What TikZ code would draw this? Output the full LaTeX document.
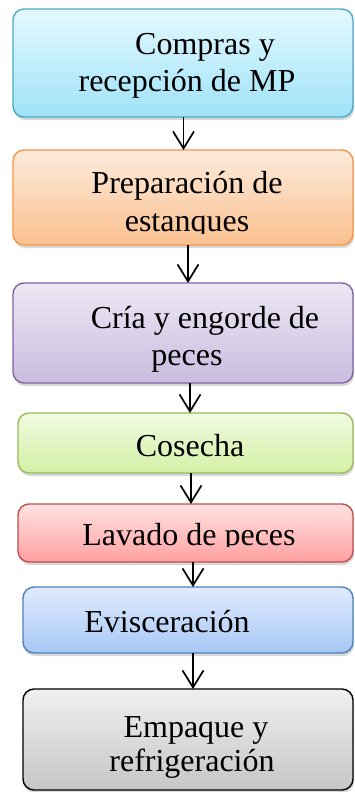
\documentclass[tikz,border=0pt]{standalone}
\usepackage{fontspec}
\setmainfont{Liberation Serif}
\usetikzlibrary{arrows.meta,shadows}
\definecolor{bA}{HTML}{4BACC6}\definecolor{tA}{HTML}{E4F8FE}\definecolor{uA}{HTML}{9EE3F8}
\definecolor{bB}{HTML}{F79646}\definecolor{tB}{HTML}{FDEBDC}\definecolor{uB}{HTML}{FAC08F}
\definecolor{bC}{HTML}{8064A2}\definecolor{tC}{HTML}{EDE8F4}\definecolor{uC}{HTML}{C9BCDF}
\definecolor{bD}{HTML}{9BBB59}\definecolor{tD}{HTML}{F0FAE0}\definecolor{uD}{HTML}{D4F0A6}
\definecolor{bE}{HTML}{C0504D}\definecolor{tE}{HTML}{FFE2E2}\definecolor{uE}{HTML}{FFA0A0}
\definecolor{bF}{HTML}{4F81BD}\definecolor{tF}{HTML}{E0EBFC}\definecolor{uF}{HTML}{A6C7F6}
\definecolor{bG}{HTML}{000000}\definecolor{tG}{HTML}{EFEFEF}\definecolor{uG}{HTML}{C6C6C6}
\tikzset{
  procbox/.style={rectangle, rounded corners=11pt, line width=1.4pt, inner sep=0pt, outer sep=0pt,
     drop shadow={shadow xshift=1pt, shadow yshift=-3pt, opacity=0.3}},
  lbl/.style={anchor=base, inner sep=0pt, font=\fontsize{32pt}{36pt}\selectfont},
  arr/.style={line width=1.7pt, -{Straight Barb[length=17pt,width=21pt,line width=1.7pt]}}
}
\begin{document}
\begin{tikzpicture}[x=1pt,y=-1pt]
\useasboundingbox (0,0) rectangle (354,792);
\fill[white] (0,0) rectangle (354,792);
% boxes
\node[procbox, draw=bA, top color=tA, bottom color=uA, minimum width=340pt, minimum height=108pt] (b1) at (183,63) {};
\node[procbox, draw=bB, top color=tB, bottom color=uB, minimum width=340pt, minimum height=95pt] (b2) at (183,197.5) {};
\node[procbox, draw=bC, top color=tC, bottom color=uC, minimum width=340pt, minimum height=100pt] (b3) at (183,333) {};
\node[procbox, draw=bD, top color=tD, bottom color=uD, minimum width=335pt, minimum height=60pt] (b4) at (185.5,443) {};
\node[procbox, draw=bE, top color=tE, bottom color=uE, minimum width=335pt, minimum height=58pt] (b5) at (185.5,533) {};
\node[procbox, draw=bF, top color=tF, bottom color=uF, minimum width=330pt, minimum height=66pt] (b6) at (188,620) {};
\node[procbox, draw=bG, top color=tG, bottom color=uG, minimum width=330pt, minimum height=101pt] (b7) at (188,739.5) {};
% texts
\node[lbl] (t1a) at (205,55) {Compras y};
\node[lbl] (t1b) at (187,91) {recepción de MP};
\node[lbl] (t2a) at (187,193) {Preparación de};
\begin{scope}
\clip (13,150) rectangle (353,233);
\node[lbl] (t2b) at (187,231) {estanques};
\end{scope}
\node[lbl] (t3a) at (205,328) {Cría y engorde de};
\node[lbl] (t3b) at (187,365) {peces};
\node[lbl] (t4) at (190,456) {Cosecha};
\begin{scope}
\clip (18,504) rectangle (353,546);
\node[lbl] (t5) at (189,545) {Lavado de peces};
\end{scope}
\node[lbl] (t6) at (167,632) {Evisceración};
\node[lbl] (t7a) at (196,737) {Empaque y};
\node[lbl] (t7b) at (192,771) {refrigeración};
% arrows
\coordinate (x1) at (183.5,0);
\coordinate (x2) at (188,0);
\coordinate (x3) at (190,0);
\coordinate (x4) at (191,0);
\coordinate (x5) at (193,0);
\coordinate (x6) at (193,0);
\draw[arr] (b1.south -| x1) -- (b2.north -| x1);
\draw[arr] (b2.south -| x2) -- (b3.north -| x2);
\draw[arr] (b3.south -| x3) -- (b4.north -| x3);
\draw[arr] (b4.south -| x4) -- (b5.north -| x4);
\draw[arr] (b5.south -| x5) -- (b6.north -| x5);
\draw[arr] (b6.south -| x6) -- (b7.north -| x6);
\end{tikzpicture}
\end{document}
